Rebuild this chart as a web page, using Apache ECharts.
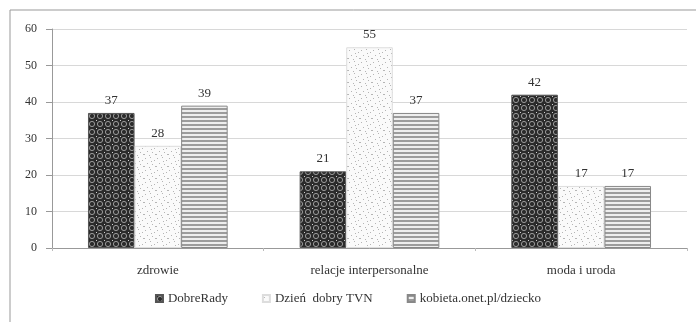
<!DOCTYPE html>
<html><head><meta charset="utf-8">
<script src="https://cdn.jsdelivr.net/npm/echarts@6/dist/echarts.min.js"></script>
<style>html,body{margin:0;padding:0;background:#fff}#c{width:696px;height:322px}</style>
</head><body><div id="c"></div>
<script>
const categories = ['zdrowie', 'relacje interpersonalne', 'moda i uroda'];
const seriesNames = ['DobreRady', 'Dzień  dobry TVN', 'kobieta.onet.pl/dziecko'];
const dobreRady = [37, 21, 42];
const dziendobry = [28, 55, 17];
const kobieta = [39, 37, 17];
const yTicks = [0, 10, 20, 30, 40, 50, 60];

function mk(w, h, draw) {
  const c = document.createElement('canvas');
  c.width = w; c.height = h;
  draw(c.getContext('2d'));
  return c;
}
const patCircles = mk(8, 8, g => {
  g.fillStyle = '#2b2b2b'; g.fillRect(0, 0, 8, 8);
  g.strokeStyle = '#9a9a9a'; g.lineWidth = 1;
  g.beginPath(); g.arc(4, 4, 2.6, 0, Math.PI * 2); g.stroke();
  g.fillStyle = '#cfcfcf'; g.fillRect(0, 0, 1, 1);
});
const patDots = mk(12, 12, g => {
  g.fillStyle = '#fafafa'; g.fillRect(0, 0, 12, 12);
  g.fillStyle = '#b5b5b5';
  [[1,2],[6,1],[10,4],[3,7],[8,8],[0,10],[5,11],[11,10],[7,5]].forEach(p => g.fillRect(p[0], p[1], 1, 1));
});
const patStripes = mk(4, 4, g => {
  g.fillStyle = '#eeeeee'; g.fillRect(0, 0, 4, 4);
  g.fillStyle = '#9c9c9c'; g.fillRect(0, 0, 4, 2);
});

const labelStyle = { show: true, position: 'top', distance: 6, color: '#333', fontFamily: 'Liberation Serif', fontSize: 13 };
function mkSeries(name, data, pat, border) {
  return {
    name, type: 'bar', data, barGap: '0%', barCategoryGap: '34%',
    itemStyle: { color: { image: pat, repeat: 'repeat' }, borderColor: border, borderWidth: 1 },
    label: labelStyle
  };
}

const chart = echarts.init(document.getElementById('c'), null, { renderer: 'canvas' });
chart.setOption({
  animation: false,
  backgroundColor: '#fff',
  graphic: [{ type: 'polyline', shape: { points: [[10, 330], [10, 10], [700, 10]] }, style: { stroke: '#999', lineWidth: 1, fill: null } }],
  grid: { left: 52, right: 9, top: 29, bottom: 74 },
  legend: {
    bottom: 12, left: 'center', itemWidth: 7, itemHeight: 7, itemGap: 34,
    icon: 'rect',
    textStyle: { fontFamily: 'Liberation Serif', fontSize: 13, color: '#333' },
    data: seriesNames
  },
  xAxis: {
    type: 'category', data: categories,
    axisLine: { lineStyle: { color: '#999' } },
    axisTick: { show: true, length: 3, lineStyle: { color: '#bbb' } },
    axisLabel: { fontFamily: 'Liberation Serif', fontSize: 13, color: '#333', margin: 16 }
  },
  yAxis: {
    type: 'value', min: 0, max: 60, interval: 10,
    axisLine: { show: true, lineStyle: { color: '#999' } },
    axisTick: { show: true, length: 6, lineStyle: { color: '#999' } },
    splitLine: { lineStyle: { color: '#d8d8d8' } },
    axisLabel: { fontFamily: 'Liberation Serif', fontSize: 12, color: '#333', margin: 15,
      formatter: v => yTicks.includes(v) ? String(v) : '' }
  },
  series: [
    mkSeries(seriesNames[0], dobreRady, patCircles, '#555'),
    mkSeries(seriesNames[1], dziendobry, patDots, '#ddd'),
    mkSeries(seriesNames[2], kobieta, patStripes, '#888')
  ]
});
</script></body></html>
